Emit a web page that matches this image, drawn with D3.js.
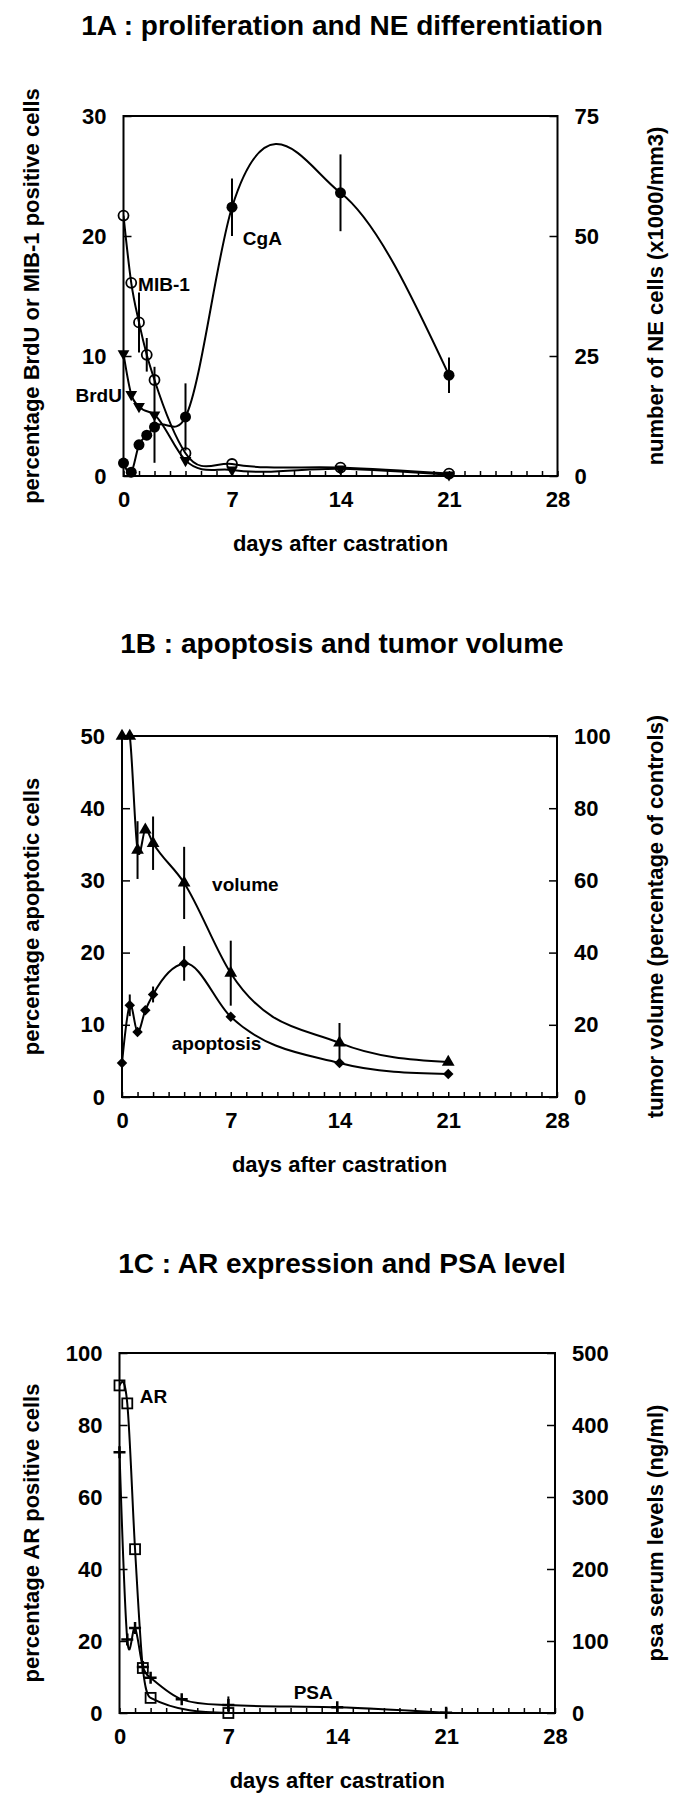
<!DOCTYPE html>
<html>
<head>
<meta charset="utf-8">
<script src="https://cdn.jsdelivr.net/npm/d3@7"></script>
<style>
body { margin: 0; background: #fff; }
text { font-family: "Liberation Sans", Arial, Helvetica, sans-serif; font-weight: bold; fill: #000; }
</style>
</head>
<body>
<div id="chart"></div>
<script>
const WIDTH = 685, HEIGHT = 1800;
const LINE_W = 2;

// shared x values (days after castration)
const days = [0, 0.5, 1, 1.5, 2, 4, 7, 14, 21];
const xTickVals = [0, 7, 14, 21, 28];

// 1A : proliferation and NE differentiation
const mib1 = [21.7, 16.1, 12.8, 10.1, 8.0, 1.9, 1.0, 0.7, 0.2];
const mib1Err = [0, 0, 2.5, 1.4, 0, 0, 0, 0, 0];
const brduDays = [0, 0.5, 1, 2, 4, 7, 14, 21];
const brdu = [10.2, 6.8, 5.8, 5.1, 1.3, 0.5, 0.6, 0.1];
const brduErr = [0, 0, 0, 4, 0, 0, 0, 0];
const cga = [2.7, 0.8, 6.5, 8.5, 10.2, 12.3, 56, 59, 21];      // right axis
const cgaErr = [0, 0, 0, 0, 0, 7, 6, 8, 3.7];
const aLeftTicks = [0, 10, 20, 30];
const aRightTicks = [0, 25, 50, 75];

// 1B : apoptosis and tumor volume
const apoptosis = [4.7, 12.7, 9.0, 12.0, 14.2, 18.5, 11.1, 4.7, 3.2];
const apoptosisErr = [0, 1.5, 0, 0, 1.1, 2.4, 0, 0, 0];
const volume = [100, 100, 68.4, 74, 70.3, 59.3, 34.3, 15, 9.7];   // right axis
const volumeErr = [0, 0, 8, 0, 7.4, 10, 9, 5.5, 0];
const bLeftTicks = [0, 10, 20, 30, 40, 50];
const bRightTicks = [0, 20, 40, 60, 80, 100];

// 1C : AR expression and PSA level
const arDays = [0, 0.5, 1, 1.5, 2, 7];
const ar = [91, 86, 45.5, 12.5, 4.2, 0];
const psa = [362, 102, 118, 64, 49, 19, 11, 8, 0.5];              // right axis
const psaErr = [0, 0, 0, 0, 0, 0, 12, 0, 0];
const cLeftTicks = [0, 20, 40, 60, 80, 100];
const cRightTicks = [0, 100, 200, 300, 400, 500];

// smooth curve through the points, x-based hermite spline
// weighted = parabolic (bessel) slopes, otherwise catmull-rom style slopes
function splineX(weighted) {
    return function(context) {
        let xs, ys;
        return {
            areaStart() {}, areaEnd() {},
            lineStart() { xs = []; ys = []; },
            point(x, y) { xs.push(+x); ys.push(+y); },
            lineEnd() {
                let n = xs.length;
                if (!n) return;
                context.moveTo(xs[0], ys[0]);
                if (n < 3) { if (n === 2) context.lineTo(xs[1], ys[1]); return; }
                let h = [], s = [], m = [];
                for (let i = 0; i < n - 1; i++) {
                    h.push(xs[i + 1] - xs[i]);
                    s.push((ys[i + 1] - ys[i]) / h[i]);
                }
                for (let i = 1; i < n - 1; i++) {
                    m[i] = weighted
                        ? (s[i - 1] * h[i] + s[i] * h[i - 1]) / (h[i - 1] + h[i])
                        : (ys[i + 1] - ys[i - 1]) / (xs[i + 1] - xs[i - 1]);
                }
                m[0] = (3 * s[0] - m[1]) / 2;
                m[n - 1] = (3 * s[n - 2] - m[n - 2]) / 2;
                for (let i = 0; i < n - 1; i++) {
                    let d = h[i] / 3;
                    context.bezierCurveTo(xs[i] + d, ys[i] + m[i] * d,
                        xs[i + 1] - d, ys[i + 1] - m[i + 1] * d, xs[i + 1], ys[i + 1]);
                }
            }
        };
    };
}

let svg = d3.select("#chart")
    .append("svg")
    .attr("width", WIDTH)
    .attr("height", HEIGHT);
let defs = svg.append("defs");

function makePanel(p) {
    let x = d3.scaleLinear().domain([0, 28]).range([p.left, p.right]);
    let yL = d3.scaleLinear().domain([0, p.leftMax]).range([p.bottom, p.top]);
    let yR = d3.scaleLinear().domain([0, p.rightMax]).range([p.bottom, p.top]);

    defs.append("clipPath").attr("id", p.id)
        .append("rect")
        .attr("x", p.left).attr("y", p.top)
        .attr("width", p.right - p.left).attr("height", p.bottom - p.top);

    svg.append("text")
        .attr("x", 342).attr("y", p.titleY)
        .style("text-anchor", "middle")
        .style("font-size", "28px")
        .text(p.title);

    // day ticks along the bottom, pointing in
    svg.append("g")
        .attr("transform", `translate(0, ${p.bottom})`)
        .call(d3.axisBottom(x).tickValues(d3.range(0, 29)).tickSize(-5).tickPadding(15)
            .tickFormat(d => xTickVals.includes(d) ? d : ""))
        .call(g => g.select(".domain").remove())
        .call(g => g.selectAll("line").attr("stroke-width", 1.5))
        .call(g => g.selectAll("text").style("font-size", "22px").style("font-family", null));

    svg.append("g")
        .attr("transform", `translate(${p.left}, 0)`)
        .call(d3.axisLeft(yL).tickValues(p.leftTicks).tickSize(-8).tickPadding(17))
        .call(g => g.select(".domain").remove())
        .call(g => g.selectAll("line").attr("stroke-width", 1.5))
        .call(g => g.selectAll("text").style("font-size", "22px").style("font-family", null));

    svg.append("g")
        .attr("transform", `translate(${p.right}, 0)`)
        .call(d3.axisRight(yR).tickValues(p.rightTicks).tickSize(-8).tickPadding(17))
        .call(g => g.select(".domain").remove())
        .call(g => g.selectAll("line").attr("stroke-width", 1.5))
        .call(g => g.selectAll("text").style("font-size", "22px").style("font-family", null));

    svg.append("rect")
        .attr("x", p.left).attr("y", p.top)
        .attr("width", p.right - p.left).attr("height", p.bottom - p.top)
        .attr("fill", "none").attr("stroke", "#000").attr("stroke-width", LINE_W);

    svg.append("text")
        .attr("x", (p.left + p.right) / 2).attr("y", p.bottom + 75)
        .style("text-anchor", "middle").style("font-size", "22px")
        .text("days after castration");
    svg.append("text")
        .attr("transform", `translate(39, ${(p.top + p.bottom) / 2}) rotate(-90)`)
        .style("text-anchor", "middle").style("font-size", "22px")
        .text(p.leftLabel);
    svg.append("text")
        .attr("transform", `translate(663, ${(p.top + p.bottom) / 2}) rotate(-90)`)
        .style("text-anchor", "middle").style("font-size", "22px")
        .text(p.rightLabel);

    return {x: x, yL: yL, yR: yR, clip: `url(#${p.id})`};
}

function drawSeries(P, xs, ys, errs, sy, marker, weighted) {
    let sx = P.x;
    let pts = xs.map((d, i) => ({d: d, v: ys[i], e: errs ? errs[i] : 0}));
    svg.append("g").selectAll("line").data(pts.filter(p => p.e > 0)).enter()
        .append("line")
        .attr("x1", p => sx(p.d)).attr("x2", p => sx(p.d))
        .attr("y1", p => sy(p.v - p.e)).attr("y2", p => sy(p.v + p.e))
        .attr("stroke", "#000").attr("stroke-width", LINE_W);
    svg.append("path")
        .datum(pts)
        .attr("clip-path", P.clip)
        .attr("fill", "none").attr("stroke", "#000").attr("stroke-width", LINE_W)
        .attr("d", d3.line().x(p => sx(p.d)).y(p => sy(p.v)).curve(splineX(weighted)));
    let g = svg.append("g").selectAll("g").data(pts).enter()
        .append("g")
        .attr("transform", p => `translate(${sx(p.d)}, ${sy(p.v)})`);
    marker(g);
}

const openCircle = g => g.append("circle").attr("r", 5).attr("fill", "none")
    .attr("stroke", "#000").attr("stroke-width", 1.8);
const dotCircle = g => g.append("circle").attr("r", 5.5).attr("fill", "#000");
const downTri = g => g.append("path").attr("d", d3.symbol(d3.symbolTriangle, 60)())
    .attr("transform", "rotate(180)").attr("fill", "#000");
const upTri = g => g.append("path").attr("d", d3.symbol(d3.symbolTriangle, 70)()).attr("fill", "#000");
const diamond = g => g.append("path").attr("d", d3.symbol(d3.symbolSquare, 55)())
    .attr("transform", "rotate(45)").attr("fill", "#000");
const openSquare = g => g.append("rect").attr("x", -5).attr("y", -5).attr("width", 10).attr("height", 10)
    .attr("fill", "none").attr("stroke", "#000").attr("stroke-width", 1.8);
const plus = g => g.append("path").attr("d", "M-6,0H6M0,-6V6")
    .attr("stroke", "#000").attr("stroke-width", 2.5);

function note(txt, x, y, size) {
    svg.append("text").attr("x", x).attr("y", y).style("font-size", size + "px").text(txt);
}

// ---- panel A
let A = makePanel({
    id: "clipA", title: "1A : proliferation and NE differentiation", titleY: 35,
    left: 123.5, right: 557.5, top: 116, bottom: 476,
    leftMax: 30, rightMax: 75, leftTicks: aLeftTicks, rightTicks: aRightTicks,
    leftLabel: "percentage BrdU or MIB-1 positive cells",
    rightLabel: "number of NE cells (x1000/mm3)"
});
drawSeries(A, days, cga, cgaErr, A.yR, dotCircle, true);
drawSeries(A, brduDays, brdu, brduErr, A.yL, downTri, true);
drawSeries(A, days, mib1, mib1Err, A.yL, openCircle, true);
note("CgA", A.x(7.7), A.yL(19.25), 19);
note("MIB-1", A.x(0.94), A.yL(15.4), 19);
note("BrdU", A.x(-3.1), A.yL(6.2), 19);

// ---- panel B
let B = makePanel({
    id: "clipB", title: "1B : apoptosis and tumor volume", titleY: 653,
    left: 122, right: 557, top: 736, bottom: 1097,
    leftMax: 50, rightMax: 100, leftTicks: bLeftTicks, rightTicks: bRightTicks,
    leftLabel: "percentage apoptotic cells",
    rightLabel: "tumor volume (percentage of controls)"
});
drawSeries(B, days, volume, volumeErr, B.yR, upTri, true);
drawSeries(B, days, apoptosis, apoptosisErr, B.yL, diamond, true);
note("volume", B.x(5.8), B.yL(28.5), 19);
note("apoptosis", B.x(3.2), B.yL(6.5), 19);

// ---- panel C
let C = makePanel({
    id: "clipC", title: "1C : AR expression and PSA level", titleY: 1273,
    left: 119.5, right: 555, top: 1353, bottom: 1713,
    leftMax: 100, rightMax: 500, leftTicks: cLeftTicks, rightTicks: cRightTicks,
    leftLabel: "percentage AR positive cells",
    rightLabel: "psa serum levels (ng/ml)"
});
drawSeries(C, arDays, ar, null, C.yL, openSquare, false);
drawSeries(C, days, psa, psaErr, C.yR, plus, false);
note("AR", C.x(1.3), C.yL(86), 19);
note("PSA", C.x(11.2), C.yL(3.9), 19);
</script>
</body>
</html>
